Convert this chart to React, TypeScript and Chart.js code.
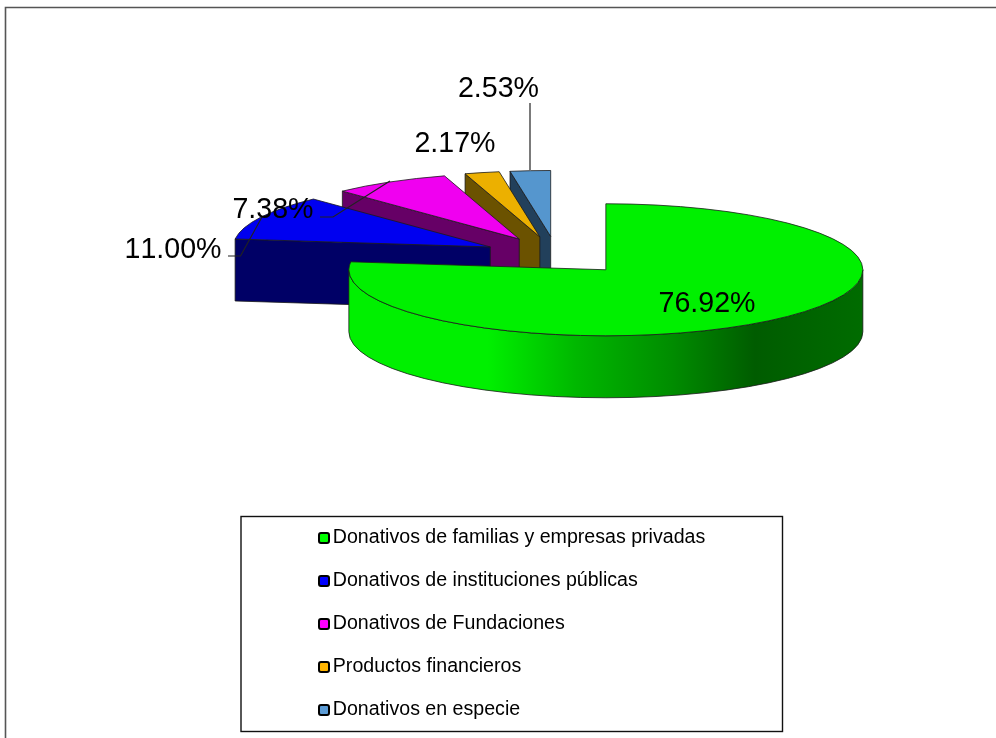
import React, { useEffect, useRef } from "react";
import { Chart, registerables } from "chart.js";

Chart.register(...registerables);

const categories = [
  "Donativos de familias y empresas privadas",
  "Donativos de instituciones públicas",
  "Donativos de Fundaciones",
  "Productos financieros",
  "Donativos en especie",
];
const shares = [76.92, 11.0, 7.38, 2.17, 2.53];
const topColors = ["#00F000", "#0000F0", "#F000F0", "#ECB000", "#5596CE"];
const wallColors = ["#006000", "#000066", "#660066", "#6B5200", "#22405B"];
const legendColors = ["#00FF00", "#0000FF", "#FF00FF", "#FFB400", "#5B9BD5"];
const valueLabels = ["76.92%", "11.00%", "7.38%", "2.17%", "2.53%"];

// Drawing style and placement (not data)
const CX = 556.6;
const CY = 255.5;
const RX = 257;
const RY = 66;
const DEPTH = 62;
const EXPLODE = 0.289;
const LABEL_FONT = '28.6px "Liberation Sans", Arial, sans-serif';
const labelCenters = [
  [707, 304],
  [173, 250],
  [273, 210],
  [455, 144],
  [498.5, 89],
];
const leaderLines = [
  [[228, 256], [240.5, 256], [262, 217]],
  [[320, 217], [333, 217], [390, 181]],
  [[530, 103], [530, 170]],
];

const pie3d = {
  id: "pie3d",
  afterLayout(chart: any) {
    const lg = chart.legend;
    const pad = lg.options.labels.padding;
    const fs = lg.options.labels.font.size;
    lg.left = 319 - pad;
    lg.right = 780;
    lg.top = 538 - fs / 2 - pad;
    lg.bottom = 800;
  },
  beforeDraw(chart: any) {
    const { ctx, width, height } = chart;
    ctx.save();
    ctx.fillStyle = "#fff";
    ctx.fillRect(0, 0, width, height);
    ctx.strokeStyle = "#555";
    ctx.lineWidth = 1.6;
    ctx.beginPath();
    ctx.moveTo(5.5, height);
    ctx.lineTo(5.5, 7.5);
    ctx.lineTo(width, 7.5);
    ctx.stroke();
    ctx.strokeStyle = "#111";
    ctx.lineWidth = 1.4;
    ctx.strokeRect(241, 516.5, 541.5, 215);
    ctx.restore();
  },
  beforeDatasetsDraw(chart: any) {
    const { ctx } = chart;
    const arcs = chart.getDatasetMeta(0).data;

    // Legend markers
    const lg = chart.legend;
    const pad = lg.options.labels.padding;
    const rowH = lg.options.labels.font.size;
    arcs.forEach((_: any, i: number) => {
      const y = lg.top + pad + i * (rowH + pad) + rowH / 2;
      ctx.save();
      ctx.beginPath();
      ctx.roundRect(319, y - 5, 10, 10, 2);
      ctx.fillStyle = legendColors[i];
      ctx.fill();
      ctx.strokeStyle = "#000";
      ctx.lineWidth = 2;
      ctx.stroke();
      ctx.restore();
    });

    // Slices, back to front
    for (let i = arcs.length - 1; i >= 0; i--) {
      const arc = arcs[i];
      const { x, y, startAngle: s, endAngle: e, outerRadius: R } = arc.getProps([
        "x", "y", "startAngle", "endAngle", "outerRadius",
      ]);
      const k = RX / R;
      const sq = RY / RX;
      const mid = (s + e) / 2;
      const ax = CX + RX * EXPLODE * Math.cos(mid);
      const ay = CY + RY * EXPLODE * Math.sin(mid);
      const outline = "#1a1a1a";
      const pt = (a: number): [number, number] => [ax + RX * Math.cos(a), ay + RY * Math.sin(a)];

      ctx.save();
      ctx.lineWidth = 0.8;
      ctx.strokeStyle = outline;
      ctx.lineJoin = "round";

      const radialWall = (a: number) => {
        const [px, py] = pt(a);
        ctx.beginPath();
        ctx.moveTo(ax, ay);
        ctx.lineTo(px, py);
        ctx.lineTo(px, py + DEPTH);
        ctx.lineTo(ax, ay + DEPTH);
        ctx.closePath();
        ctx.fillStyle = wallColors[i];
        ctx.fill();
        ctx.stroke();
      };
      if (Math.cos(s) < -1e-6) radialWall(s);
      if (Math.cos(e) > 1e-6) radialWall(e);

      const a0 = Math.max(s, 0);
      const a1 = Math.min(e, Math.PI);
      if (a1 > a0) {
        const g = ctx.createLinearGradient(ax - RX, 0, ax + RX, 0);
        g.addColorStop(0, "#00F000");
        g.addColorStop(0.27, "#00F000");
        g.addColorStop(0.44, "#00B800");
        g.addColorStop(0.63, "#008C00");
        g.addColorStop(0.79, "#005C00");
        g.addColorStop(1, "#006C00");
        ctx.beginPath();
        ctx.ellipse(ax, ay, RX, RY, 0, a0, a1, false);
        ctx.ellipse(ax, ay + DEPTH, RX, RY, 0, a1, a0, true);
        ctx.closePath();
        ctx.fillStyle = g;
        ctx.fill();
        ctx.stroke();
      }

      // Top face: the library's own arc element, squashed into an ellipse
      ctx.save();
      ctx.translate(ax, ay);
      ctx.scale(k, k * sq);
      ctx.translate(-x, -y);
      arc.draw(ctx);
      ctx.restore();

      ctx.beginPath();
      ctx.moveTo(ax, ay);
      ctx.ellipse(ax, ay, RX, RY, 0, s, e, false);
      ctx.closePath();
      ctx.stroke();
      ctx.restore();
    }

    // Leader lines and value labels
    ctx.save();
    ctx.strokeStyle = "#222";
    ctx.lineWidth = 1.2;
    leaderLines.forEach((line) => {
      ctx.beginPath();
      line.forEach(([px, py], j) => (j ? ctx.lineTo(px, py) : ctx.moveTo(px, py)));
      ctx.stroke();
    });
    ctx.font = LABEL_FONT;
    (ctx as any).fontKerning = "none";
    ctx.fillStyle = "#000";
    ctx.textAlign = "center";
    ctx.textBaseline = "middle";
    valueLabels.forEach((t, i) => ctx.fillText(t, labelCenters[i][0], labelCenters[i][1]));
    ctx.restore();
    return false;
  },
};

export default function App() {
  const ref = useRef<HTMLCanvasElement>(null);
  useEffect(() => {
    const chart = new Chart(ref.current as HTMLCanvasElement, {
      type: "pie",
      data: {
        labels: categories,
        datasets: [
          {
            data: shares,
            backgroundColor: topColors,
            borderWidth: 0,
          },
        ],
      },
      options: {
        animation: false,
        responsive: false,
        devicePixelRatio: 1,
        layout: { padding: 0 },
        plugins: {
          tooltip: { enabled: false },
          legend: {
            position: "chartArea",
            align: "start",
            labels: {
              boxWidth: 4,
              boxHeight: 4,
              padding: 23.4,
              color: "#000",
              font: { family: '"Liberation Sans", Arial, sans-serif', size: 19.6 },
              generateLabels: (c: any) =>
                (Chart as any).overrides.pie.plugins.legend.labels
                  .generateLabels(c)
                  .map((it: any) => ({ ...it, fillStyle: "transparent", strokeStyle: "transparent", lineWidth: 0 })),
            },
          },
        },
      } as any,
      plugins: [pie3d],
    });
    return () => chart.destroy();
  }, []);
  return (
    <canvas
      ref={ref}
      width={996}
      height={738}
      style={{ position: "fixed", left: 0, top: 0, width: 996, height: 738, display: "block" }}
    />
  );
}
